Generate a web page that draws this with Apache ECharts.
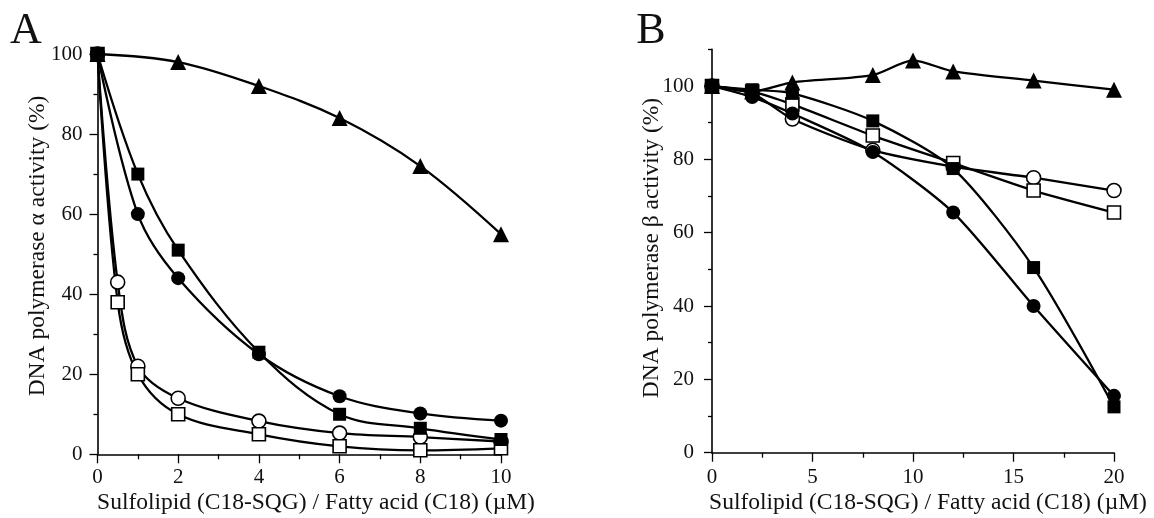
<!DOCTYPE html>
<html>
<head>
<meta charset="utf-8">
<script src="https://cdn.jsdelivr.net/npm/echarts@6/dist/echarts.min.js"></script>
<style>
html,body{margin:0;padding:0;background:#fff;}
#c{width:1154px;height:518px;}
</style>
</head>
<body>
<div id="c"></div>
<script>
// ---- Panel A data (DNA polymerase alpha) ----
const xA_tri = [0, 2, 4, 6, 8, 10];
const xA_fill = [0, 1, 2, 4, 6, 8, 10];
const xA_open = [0, 0.5, 1, 2, 4, 6, 8, 10];
const A_triangle = [100, 98, 92, 84, 72, 55];
const A_fillSquare = [100, 70, 51, 25.5, 10, 6.5, 3.7];
const A_fillCircle = [100, 60, 44, 25, 14.5, 10.2, 8.4];
const A_openCircle = [100, 43, 22, 14, 8.3, 5.3, 4.3, 3.2];
const A_openSquare = [100, 38, 20, 10, 5, 2, 1, 1.5];

// ---- Panel B data (DNA polymerase beta) ----
const xB_tri = [0, 2, 4, 8, 10, 12, 16, 20];
const xB = [0, 2, 4, 8, 12, 16, 20];
const B_triangle = [100, 98.5, 101, 103, 107, 104, 101.5, 99];
const B_fillSquare = [100, 99, 98, 90.5, 77.5, 50.5, 12.5];
const B_openSquare = [100, 98.5, 95, 86.5, 79, 71.5, 65.5];
const B_fillCircle = [100, 97, 92.5, 82, 65.5, 40, 15.5];
const B_openCircle = [100, 98, 91, 82.5, 78, 75, 71.5];

// ---- Tick labels / texts ----
const yTicksA = [0, 20, 40, 60, 80, 100];
const yTicksB = [0, 20, 40, 60, 80, 100];
const yMinorB = [10, 30, 50, 70, 90, 110];
const xTitle = 'Sulfolipid (C18-SQG) / Fatty acid (C18) (\u00b5M)';
const yTitleA = 'DNA polymerase \u03b1 activity (%)';
const yTitleB = 'DNA polymerase \u03b2 activity (%)';

const FONT = 'Liberation Serif';
const pair = (xs, ys) => xs.map((x, i) => [x, ys[i]]);

function mkSeries(name, xs, ys, xi, yi, symbol, filled, size, smooth) {
  return {
    name, type: 'line', xAxisIndex: xi, yAxisIndex: yi,
    data: pair(xs, ys), smooth: smooth,
    symbol, symbolSize: size, showAllSymbol: true,
    lineStyle: { color: '#000', width: 2.3 },
    itemStyle: filled ? { color: '#000', borderColor: '#000', borderWidth: 0 }
                      : { color: '#fff', borderColor: '#000', borderWidth: 1.6 },
    emphasis: { disabled: true }, z: 2
  };
}

const axisCommon = {
  axisLine: { show: true, lineStyle: { color: '#000', width: 1.6 } },
  splitLine: { show: false },
  minorSplitLine: { show: false },
  axisLabel: { color: '#111', fontFamily: FONT, fontSize: 21 }
};

const chart = echarts.init(document.getElementById('c'), null, { renderer: 'canvas' });
chart.setOption({
  animation: false,
  backgroundColor: '#fff',
  grid: [
    { left: 97.5, top: 54, width: 403.5, height: 400.3 },
    { left: 712, top: 49.4, width: 402, height: 403.3 }
  ],
  xAxis: [
    Object.assign({}, axisCommon, {
      gridIndex: 0, type: 'value', min: 0, max: 10, interval: 2,
      axisTick: { show: true, length: 9, lineStyle: { color: '#000', width: 1.3 } },
      minorTick: { show: true, splitNumber: 2, length: 5, lineStyle: { color: '#000', width: 1.3 } },
      axisLabel: { color: '#111', fontFamily: FONT, fontSize: 21, margin: 13 }
    }),
    Object.assign({}, axisCommon, {
      gridIndex: 1, type: 'value', min: 0, max: 20, interval: 5,
      axisTick: { show: true, length: 9, lineStyle: { color: '#000', width: 1.3 } },
      minorTick: { show: true, splitNumber: 2, length: 5, lineStyle: { color: '#000', width: 1.3 } },
      axisLabel: { color: '#111', fontFamily: FONT, fontSize: 21, margin: 14 }
    })
  ],
  yAxis: [
    Object.assign({}, axisCommon, {
      gridIndex: 0, type: 'value', min: 0, max: 100, interval: 20,
      axisTick: { show: true, length: 8, lineStyle: { color: '#000', width: 1.3 } },
      minorTick: { show: true, splitNumber: 2, length: 4, lineStyle: { color: '#000', width: 1.3 } },
      axisLabel: { color: '#111', fontFamily: FONT, fontSize: 21, margin: 15,
        formatter: v => yTicksA.includes(v) ? String(v) : '' }
    }),
    Object.assign({}, axisCommon, {
      gridIndex: 1, type: 'value', position: 'left', min: 0, max: 110, interval: 10,
      axisTick: { show: true, length: 8, customValues: yTicksB, lineStyle: { color: '#000', width: 1.3 } },
      axisLabel: { color: '#111', fontFamily: FONT, fontSize: 21, margin: 18, customValues: yTicksB }
    }),
    {
      gridIndex: 1, type: 'value', position: 'left', offset: 0, min: 0, max: 110, interval: 10,
      axisLine: { show: false },
      splitLine: { show: false },
      axisLabel: { show: false },
      axisTick: { show: true, length: 4, customValues: yMinorB, lineStyle: { color: '#000', width: 1.3 } }
    }
  ],
  graphic: [
    { type: 'text', x: 26, y: 31, style: { text: 'A', font: '44px "Liberation Serif"', fill: '#111', align: 'center', verticalAlign: 'middle' } },
    { type: 'text', x: 651, y: 31, style: { text: 'B', font: '44px "Liberation Serif"', fill: '#111', align: 'center', verticalAlign: 'middle' } },
    { type: 'text', x: 316, y: 503, style: { text: xTitle, font: '23.5px "Liberation Serif"', fill: '#111', align: 'center', verticalAlign: 'middle' } },
    { type: 'text', x: 928, y: 503, style: { text: xTitle, font: '23.5px "Liberation Serif"', fill: '#111', align: 'center', verticalAlign: 'middle' } },
    { type: 'text', x: 38, y: 246, rotation: Math.PI / 2, style: { text: yTitleA, font: '23.5px "Liberation Serif"', fill: '#111', align: 'center', verticalAlign: 'middle' } },
    { type: 'text', x: 652, y: 248, rotation: Math.PI / 2, style: { text: yTitleB, font: '23.5px "Liberation Serif"', fill: '#111', align: 'center', verticalAlign: 'middle' } }
  ],
  series: [
    mkSeries('A triangle', xA_tri, A_triangle, 0, 0, 'triangle', true, 16, 0.35),
    mkSeries('A open circle', xA_open, A_openCircle, 0, 0, 'circle', false, 14, 0.35),
    mkSeries('A open square', xA_open, A_openSquare, 0, 0, 'rect', false, 13, 0.35),
    mkSeries('A filled circle', xA_fill, A_fillCircle, 0, 0, 'circle', true, 14, 0.35),
    mkSeries('A filled square', xA_fill, A_fillSquare, 0, 0, 'rect', true, 13, 0.35),
    mkSeries('B triangle', xB_tri, B_triangle, 1, 1, 'triangle', true, 16, 0.25),
    mkSeries('B open circle', xB, B_openCircle, 1, 1, 'circle', false, 14, 0.25),
    mkSeries('B open square', xB, B_openSquare, 1, 1, 'rect', false, 13, 0.25),
    mkSeries('B filled circle', xB, B_fillCircle, 1, 1, 'circle', true, 14, 0.25),
    mkSeries('B filled square', xB, B_fillSquare, 1, 1, 'rect', true, 13, 0.25)
  ]
});
</script>
</body>
</html>
